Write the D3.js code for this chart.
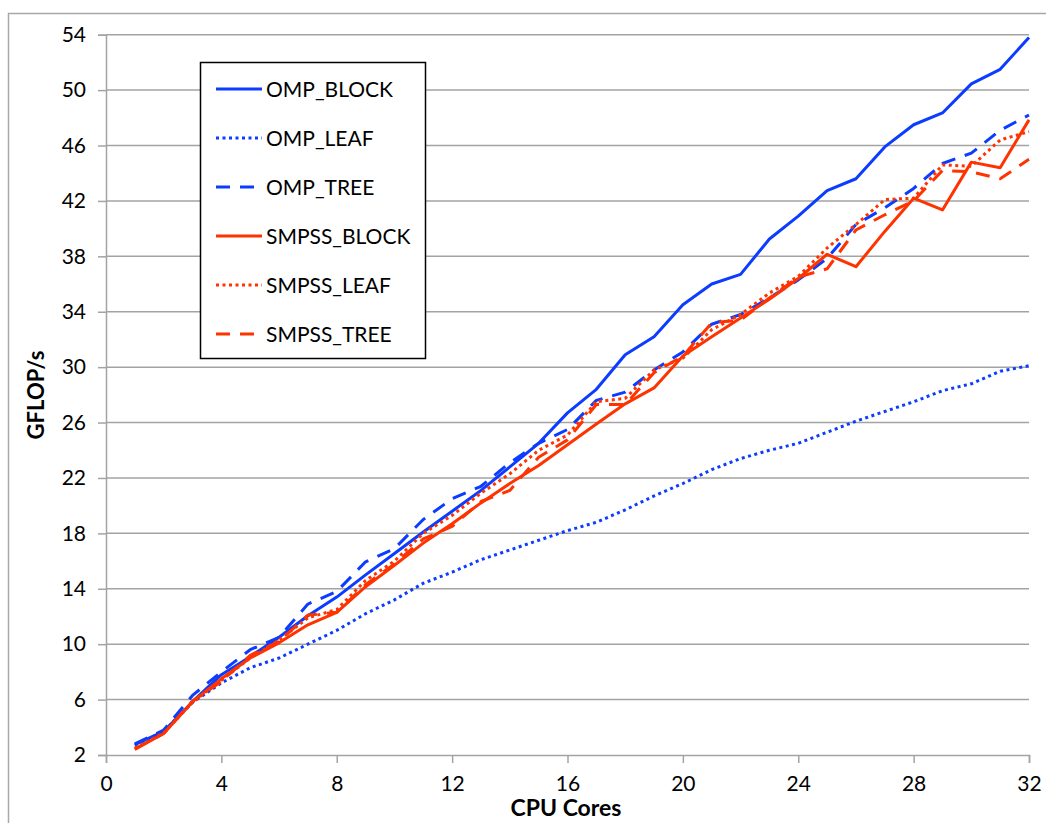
<!DOCTYPE html>
<html>
<head>
<meta charset="utf-8">
<script src="https://cdn.jsdelivr.net/npm/d3@7"></script>
<style>
    body { margin: 0; background: #fff; }
    svg { font-family: Lato, "Open Sans", sans-serif; }
</style>
</head>
<body>
<svg id="chart" width="1046" height="823"></svg>
<script>
const cores = d3.range(1, 33);
const xTicks = [0, 4, 8, 12, 16, 20, 24, 28, 32];
const yTicks = [2, 6, 10, 14, 18, 22, 26, 30, 34, 38, 42, 46, 50, 54];

const seriesNames = ['OMP_BLOCK', 'OMP_LEAF', 'OMP_TREE', 'SMPSS_BLOCK', 'SMPSS_LEAF', 'SMPSS_TREE'];

const ompBlock = [2.75, 3.7, 5.85, 7.8, 9.1, 10.5, 12.05, 13.4, 15.0, 16.55, 18.1, 19.6, 21.1, 22.8, 24.5, 26.7,
    28.4, 30.9, 32.2, 34.5, 36.0, 36.7, 39.25, 40.9, 42.75, 43.6, 45.9, 47.5, 48.35, 50.45, 51.5, 53.8];
const ompLeaf = [2.7, 3.7, 5.8, 7.2, 8.3, 9.0, 10.0, 11.0, 12.2, 13.2, 14.4, 15.2, 16.1, 16.8, 17.5, 18.2,
    18.8, 19.7, 20.7, 21.6, 22.6, 23.4, 24.0, 24.5, 25.3, 26.1, 26.8, 27.5, 28.3, 28.8, 29.7, 30.1];
const ompTree = [2.8, 3.8, 6.3, 8.0, 9.6, 10.5, 12.9, 13.8, 15.95, 16.9, 19.0, 20.5, 21.4, 23.1, 24.5, 25.5,
    27.6, 28.2, 29.8, 31.1, 33.1, 33.8, 35.0, 36.3, 37.85, 40.3, 41.5, 42.9, 44.7, 45.45, 47.1, 48.2];
const smpssBlock = [2.4, 3.55, 5.85, 7.5, 9.0, 10.1, 11.4, 12.3, 14.15, 15.7, 17.3, 18.7, 20.2, 21.6, 22.9, 24.4,
    25.9, 27.35, 28.5, 30.8, 32.2, 33.55, 34.9, 36.4, 38.15, 37.25, 39.8, 42.2, 41.35, 44.8, 44.4, 47.85];
const smpssLeaf = [2.5, 3.6, 5.8, 7.4, 9.0, 10.3, 11.9, 12.5, 14.6, 16.0, 18.0, 19.3, 20.9, 22.3, 24.0, 25.1,
    27.5, 27.75, 29.8, 30.65, 32.7, 33.8, 35.35, 36.55, 38.6, 40.3, 42.1, 42.2, 44.6, 44.5, 46.4, 47.0];
const smpssTree = [2.45, 3.55, 5.9, 7.3, 9.2, 10.2, 12.1, 12.3, 14.3, 15.8, 17.6, 18.5, 20.3, 21.1, 23.5, 24.75,
    27.3, 27.3, 29.6, 30.8, 33.2, 33.4, 35.0, 36.5, 37.1, 39.9, 41.0, 42.0, 44.2, 44.1, 43.6, 45.0];

const BLUE = '#0b3cff', RED = '#ff3300', GRID = '#a3a3a3';
const DASH = '14,10', DOT = '3,3.5';

const series = [
    {name: seriesNames[0], values: ompBlock, color: BLUE, dash: null},
    {name: seriesNames[1], values: ompLeaf, color: BLUE, dash: DOT},
    {name: seriesNames[2], values: ompTree, color: BLUE, dash: DASH},
    {name: seriesNames[3], values: smpssBlock, color: RED, dash: null},
    {name: seriesNames[4], values: smpssLeaf, color: RED, dash: DOT},
    {name: seriesNames[5], values: smpssTree, color: RED, dash: DASH}
];

const svg = d3.select('#chart');
const plotLeft = 106, plotRight = 1029, plotTop = 34.7, plotBottom = 755;

const x = d3.scaleLinear().domain([0, 32]).range([plotLeft, plotRight]);
const y = d3.scaleLinear().domain([2, 54]).range([plotBottom, plotTop]);

// outer chart frame (only left and top edges show)
svg.append('path')
    .attr('d', `M 8.5 823 L 8.5 13.5 L 1046 13.5`)
    .attr('fill', 'none')
    .attr('stroke', '#a8a8a8')
    .attr('stroke-width', 1.5);

// horizontal gridlines
svg.append('g')
    .selectAll('line')
    .data(yTicks.slice(1))
    .join('line')
        .attr('x1', plotLeft).attr('x2', plotRight)
        .attr('y1', d => y(d)).attr('y2', d => y(d))
        .attr('stroke', GRID)
        .attr('stroke-width', 1.5);

// axes
let xAxis = svg.append('g')
    .attr('transform', `translate(0,${plotBottom})`)
    .call(d3.axisBottom(x).tickValues(xTicks).tickSize(8).tickPadding(13));

let yAxis = svg.append('g')
    .attr('transform', `translate(${plotLeft},0)`)
    .call(d3.axisLeft(y).tickValues(yTicks).tickSize(8).tickPadding(12));

[xAxis, yAxis].forEach(a => {
    a.select('.domain').attr('stroke', GRID).attr('stroke-width', 1.5);
    a.selectAll('.tick line').attr('stroke', GRID).attr('stroke-width', 1.5);
    a.selectAll('.tick text')
        .attr('fill', '#000')
        .style('font-size', '21px')
        .style('font-family', 'Lato, sans-serif');
});

// series lines
const line = d3.line()
    .x((d, i) => x(cores[i]))
    .y(d => y(d));

svg.append('g')
    .selectAll('path')
    .data(series)
    .join('path')
        .attr('d', d => line(d.values))
        .attr('fill', 'none')
        .attr('stroke', d => d.color)
        .attr('stroke-width', 3)
        .attr('stroke-linejoin', 'round')
        .attr('stroke-dasharray', d => d.dash);

// axis titles
svg.append('text')
    .attr('x', 566).attr('y', 816)
    .attr('text-anchor', 'middle')
    .style('font-size', '23px')
    .style('font-weight', 'bold')
    .text('CPU Cores');

svg.append('text')
    .attr('transform', 'translate(44,395) rotate(-90)')
    .attr('text-anchor', 'middle')
    .style('font-size', '22px')
    .style('font-weight', 'bold')
    .text('GFLOP/s');

// legend
const legend = svg.append('g');
legend.append('rect')
    .attr('x', 200.5).attr('y', 62.5)
    .attr('width', 225).attr('height', 296)
    .attr('fill', '#fff')
    .attr('stroke', '#000')
    .attr('stroke-width', 1.5);

let item = legend.selectAll('g.item')
    .data(series)
    .join('g')
        .attr('class', 'item')
        .attr('transform', (d, i) => `translate(0,${89 + i * 49})`);

item.append('line')
    .attr('x1', 216).attr('x2', 262)
    .attr('stroke', d => d.color)
    .attr('stroke-width', 3)
    .attr('stroke-dasharray', d => d.dash);

item.append('text')
    .attr('x', 266).attr('y', 7.5)
    .style('font-size', '21px')
    .attr('fill', '#000')
    .text(d => d.name);
</script>
</body>
</html>
